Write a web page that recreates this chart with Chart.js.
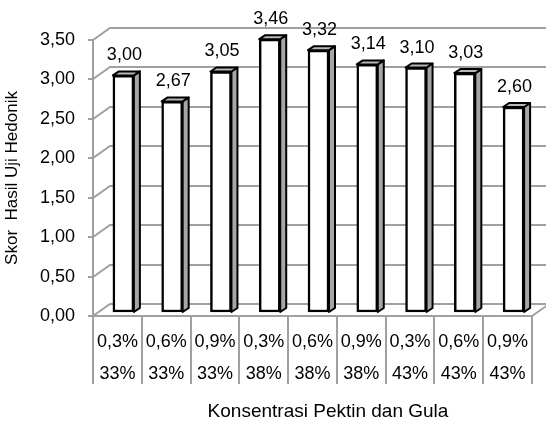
<!DOCTYPE html>
<html>
<head>
<meta charset="utf-8">
<script src="https://cdn.jsdelivr.net/npm/chart.js@4.4.0/dist/chart.umd.min.js"></script>
<style>
  body { margin: 0; background: #fff; }
</style>
</head>
<body>
<canvas id="hedonik" width="546" height="426"></canvas>
<script>
const pektin = ['0,3%', '0,6%', '0,9%', '0,3%', '0,6%', '0,9%', '0,3%', '0,6%', '0,9%'];
const gula = ['33%', '33%', '33%', '38%', '38%', '38%', '43%', '43%', '43%'];
const skor = [3.00, 2.67, 3.05, 3.46, 3.32, 3.14, 3.10, 3.03, 2.60];

const FONT = '"Liberation Sans", Arial, sans-serif';
const WALL_X = 17, WALL_Y = -12;   // depth of the back wall
const BAR_X = 6, BAR_Y = -4;       // bars stand a third of the way back
const SIDE_X = 6, SIDE_Y = -4;     // thickness of each bar

const koma = v => v.toFixed(2).replace('.', ',');

// walls, floor, table lines, 3d faces of the bars and value labels
const box3d = {
  id: 'box3d',
  beforeDatasetsDraw(chart) {
    const { ctx, chartArea: a, scales: { x, y } } = chart;
    ctx.save();
    ctx.strokeStyle = '#a0a0a0';
    ctx.lineWidth = 2;
    y.ticks.forEach(t => {
      const py = Math.round(y.getPixelForValue(t.value));
      ctx.beginPath();
      ctx.moveTo(a.left - 5, py);
      ctx.lineTo(a.left, py);
      ctx.lineTo(a.left + WALL_X, py + WALL_Y);
      ctx.lineTo(a.right + WALL_X + 5, py + WALL_Y);
      ctx.stroke();
    });
    ctx.beginPath();
    ctx.moveTo(a.left, a.top);
    ctx.lineTo(a.left, a.bottom);
    ctx.lineTo(a.right, a.bottom);
    ctx.lineTo(a.right + WALL_X, a.bottom + WALL_Y);
    ctx.stroke();

    const step = x.getPixelForValue(1) - x.getPixelForValue(0);
    const first = x.getPixelForValue(0) - step / 2;
    for (let i = 0; i <= pektin.length; i++) {
      const px = Math.round(first + i * step);
      ctx.beginPath();
      ctx.moveTo(px, a.bottom);
      ctx.lineTo(px, a.bottom + 68);
      ctx.stroke();
    }
    ctx.restore();

    ctx.save();
    ctx.translate(BAR_X, BAR_Y);
  },
  afterDatasetsDraw(chart) {
    const { ctx } = chart;
    ctx.lineWidth = 2;
    ctx.lineJoin = 'round';
    ctx.strokeStyle = '#000';
    chart.getDatasetMeta(0).data.forEach((bar, i) => {
      const { x: cx, y: top, base, width } = bar.getProps(['x', 'y', 'base', 'width'], true);
      const l = cx - width / 2, r = cx + width / 2;

      ctx.fillStyle = '#a6a6a6';
      ctx.beginPath();
      ctx.moveTo(r, top);
      ctx.lineTo(r + SIDE_X, top + SIDE_Y);
      ctx.lineTo(r + SIDE_X, base + SIDE_Y);
      ctx.lineTo(r, base);
      ctx.closePath();
      ctx.fill();
      ctx.stroke();

      ctx.fillStyle = '#b8b8b8';
      ctx.beginPath();
      ctx.moveTo(l, top);
      ctx.lineTo(l + SIDE_X, top + SIDE_Y);
      ctx.lineTo(r + SIDE_X, top + SIDE_Y);
      ctx.lineTo(r, top);
      ctx.closePath();
      ctx.fill();
      ctx.stroke();

      ctx.fillStyle = '#000';
      ctx.font = '18px ' + FONT;
      ctx.textAlign = 'center';
      ctx.textBaseline = 'middle';
      ctx.fillText(koma(skor[i]), cx + 1, top - 20);
    });
    ctx.restore();
  },
  afterDraw(chart) {
    const { ctx } = chart;
    ctx.save();
    ctx.fillStyle = '#000';
    ctx.font = '19px ' + FONT;
    ctx.textAlign = 'center';
    ctx.textBaseline = 'middle';
    ctx.fillText('Konsentrasi Pektin dan Gula', 328, 412);
    ctx.restore();
  }
};

new Chart(document.getElementById('hedonik'), {
  type: 'bar',
  data: {
    labels: pektin.map((p, i) => [p, gula[i]]),
    datasets: [{
      data: skor,
      backgroundColor: '#fff',
      borderColor: '#000',
      borderWidth: 2.5,
      borderSkipped: false,
      barThickness: 21,
      clip: false
    }]
  },
  options: {
    responsive: false,
    animation: false,
    layout: { padding: { top: 40, right: 14, left: 0, bottom: 0 } },
    plugins: { legend: { display: false }, tooltip: { enabled: false } },
    scales: {
      x: {
        grid: { display: false },
        border: { display: false },
        ticks: {
          color: '#000',
          font: { family: FONT, size: 18, lineHeight: 32 / 18 },
          padding: 2,
          maxRotation: 0,
          autoSkip: false
        },
        afterFit: s => { s.height = 110; }
      },
      y: {
        min: 0,
        max: 3.5,
        grid: { display: false },
        border: { display: false },
        ticks: {
          stepSize: 0.5,
          color: '#000',
          font: { family: FONT, size: 18 },
          padding: 10,
          callback: v => koma(v)
        },
        title: {
          display: true,
          text: 'Skor  Hasil Uji Hedonik',
          color: '#000',
          font: { family: FONT, size: 17 },
          padding: { top: 2, bottom: 0 }
        },
        afterFit: s => { s.width = 93; }
      }
    }
  },
  plugins: [box3d]
});
</script>
</body>
</html>
